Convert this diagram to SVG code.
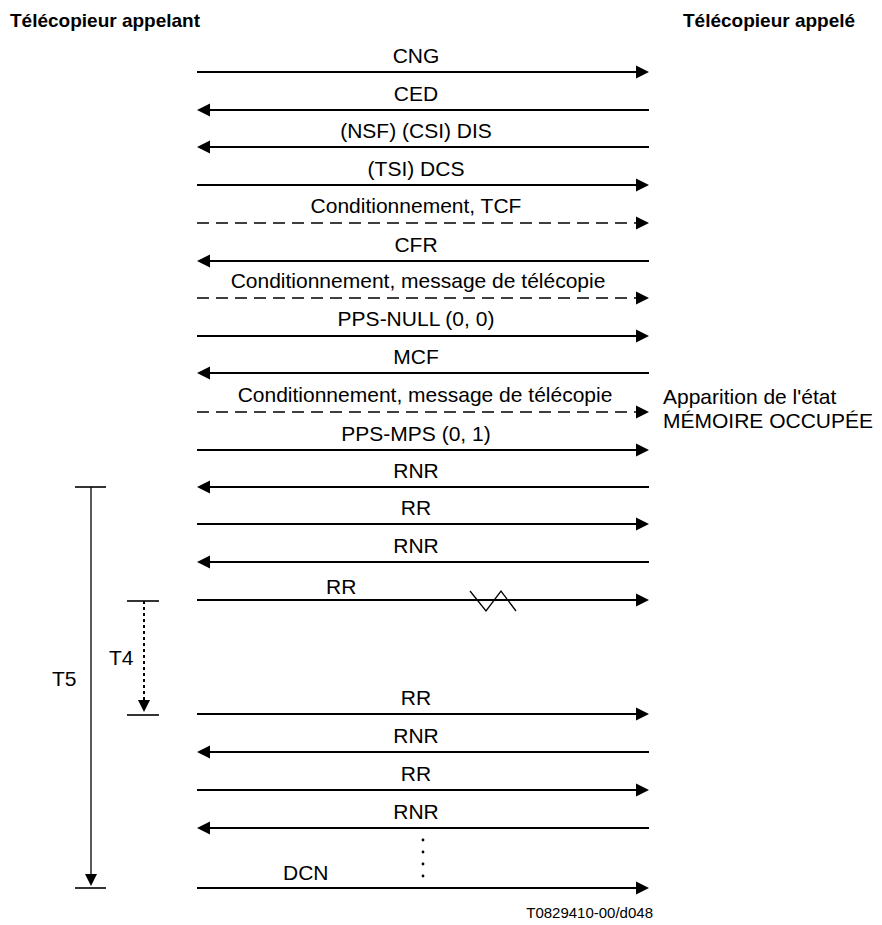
<svg xmlns="http://www.w3.org/2000/svg" width="882" height="925" viewBox="0 0 882 925">
<defs>
<style>
text{font-family:"Liberation Sans",Arial,sans-serif;fill:#000}
.hd{font-size:19px;font-weight:bold}
.lb{font-size:21px;text-anchor:middle}
.ls{font-size:21px}
.ft{font-size:15px;text-anchor:end}
.msg{stroke:#000;stroke-width:2;fill:none;marker-end:url(#ah)}
.dash{stroke:#000;stroke-width:1.5;fill:none;stroke-dasharray:12 7;marker-end:url(#ah)}
.thin{stroke:#000;stroke-width:1.3;fill:none}
.tick{stroke:#000;stroke-width:1.6;fill:none}
</style>
<marker id="ah" markerUnits="userSpaceOnUse" markerWidth="13" markerHeight="13" refX="3" refY="6.5" orient="auto" overflow="visible">
<path d="M0,0 L13,6.5 L0,13 z" fill="#000"/>
</marker>
<marker id="ahv" markerUnits="userSpaceOnUse" markerWidth="13" markerHeight="13" refX="3" refY="6" orient="auto" overflow="visible">
<path d="M0,0 L12,6 L0,12 z" fill="#000"/>
</marker>
</defs>
<rect width="882" height="925" fill="#fff"/>

<g id="header-left"><text class="hd" x="10" y="27">Télécopieur appelant</text></g>
<g id="header-right"><text class="hd" x="683" y="27">Télécopieur appelé</text></g>

<g id="connectors">
<line class="msg" x1="197" y1="72" x2="639" y2="72"/>
<line class="msg" x1="649" y1="110" x2="207" y2="110"/>
<line class="msg" x1="649" y1="147" x2="207" y2="147"/>
<line class="msg" x1="197" y1="185" x2="639" y2="185"/>
<line class="dash" x1="197" y1="223" x2="639" y2="223"/>
<line class="msg" x1="649" y1="261" x2="207" y2="261"/>
<line class="dash" x1="197" y1="298" x2="639" y2="298"/>
<line class="msg" x1="197" y1="336" x2="639" y2="336"/>
<line class="msg" x1="649" y1="373" x2="207" y2="373"/>
<line class="dash" x1="197" y1="412" x2="639" y2="412"/>
<line class="msg" x1="197" y1="450" x2="639" y2="450"/>
<line class="msg" x1="649" y1="487" x2="207" y2="487"/>
<line class="msg" x1="197" y1="524" x2="639" y2="524"/>
<line class="msg" x1="649" y1="562" x2="207" y2="562"/>
<line class="msg" x1="197" y1="600" x2="639" y2="600"/>
<line class="msg" x1="197" y1="714" x2="639" y2="714"/>
<line class="msg" x1="649" y1="752" x2="207" y2="752"/>
<line class="msg" x1="197" y1="790" x2="639" y2="790"/>
<line class="msg" x1="649" y1="828" x2="207" y2="828"/>
<line class="msg" x1="197" y1="888" x2="639" y2="888"/>
<polyline class="thin" points="470,591 486,611 501,591 516,611"/>
</g>

<g id="m-cng"><text class="lb" x="416" y="63">CNG</text></g>
<g id="m-ced"><text class="lb" x="416" y="101">CED</text></g>
<g id="m-dis"><text class="lb" x="416" y="138">(NSF) (CSI) DIS</text></g>
<g id="m-dcs"><text class="lb" x="416" y="176">(TSI) DCS</text></g>
<g id="m-tcf"><text class="lb" x="416" y="213">Conditionnement, TCF</text></g>
<g id="m-cfr"><text class="lb" x="416" y="252">CFR</text></g>
<g id="m-msg1"><text class="lb" x="418" y="288">Conditionnement, message de télécopie</text></g>
<g id="m-null"><text class="lb" x="416" y="326">PPS-NULL (0, 0)</text></g>
<g id="m-mcf"><text class="lb" x="416" y="364">MCF</text></g>
<g id="m-msg2"><text class="lb" x="425" y="402">Conditionnement, message de télécopie</text></g>
<g id="m-mps"><text class="lb" x="416" y="441">PPS-MPS (0, 1)</text></g>
<g id="m-rnr1"><text class="lb" x="416" y="478">RNR</text></g>
<g id="m-rr1"><text class="lb" x="416" y="515">RR</text></g>
<g id="m-rnr2"><text class="lb" x="416" y="553">RNR</text></g>
<g id="m-rr2"><text class="ls" x="326" y="594">RR</text></g>
<g id="m-rr3"><text class="lb" x="416" y="705">RR</text></g>
<g id="m-rnr3"><text class="lb" x="416" y="743">RNR</text></g>
<g id="m-rr4"><text class="lb" x="416" y="781">RR</text></g>
<g id="m-rnr4"><text class="lb" x="416" y="819">RNR</text></g>
<g id="m-dcn"><text class="ls" x="283" y="880">DCN</text></g>

<g id="ellipsis">
<circle cx="423" cy="840" r="1.4"/>
<circle cx="423" cy="852" r="1.4"/>
<circle cx="423" cy="864" r="1.4"/>
<circle cx="423" cy="876" r="1.4"/>
</g>

<g id="note-busy">
<text class="ls" x="663" y="404">Apparition de l'état</text>
<text class="ls" x="663" y="428">MÉMOIRE OCCUPÉE</text>
</g>

<g id="timer-t5">
<line class="tick" x1="75" y1="487" x2="106" y2="487"/>
<line class="thin" x1="91" y1="487" x2="91" y2="877" marker-end="url(#ahv)"/>
<line class="tick" x1="75" y1="888" x2="106" y2="888"/>
<text class="ls" x="52" y="686">T5</text>
</g>

<g id="timer-t4">
<line class="tick" x1="127" y1="601" x2="159" y2="601"/>
<line x1="144" y1="601" x2="144" y2="703" stroke="#000" stroke-width="2" stroke-dasharray="3 3" marker-end="url(#ahv)"/>
<line class="tick" x1="127" y1="715" x2="159" y2="715"/>
<text class="ls" x="109" y="665">T4</text>
</g>

<g id="footer"><text class="ft" x="653" y="918">T0829410-00/d048</text></g>
</svg>
